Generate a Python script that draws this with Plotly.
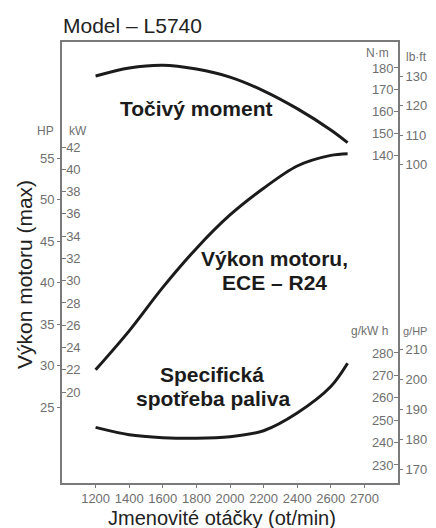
import plotly.graph_objects as go

# ---------------- data ----------------
rpm = [1200, 1400, 1600, 1800, 2000, 2200, 2400, 2600, 2700]
torque_nm = [176.3, 180.0, 181.3, 179.5, 175.8, 169.5, 161.3, 151.5, 145.7]
power_kw = [22.0, 25.5, 29.4, 32.9, 35.9, 38.3, 40.3, 41.25, 41.4]
fuel_gkwh = [246.8, 243.5, 242.2, 241.9, 242.6, 245.3, 253.2, 265.0, 275.4]

# x tick slots as drawn in the reference (last label "2700" sits one slot further right)
x_tickvals = [1200, 1400, 1600, 1800, 2000, 2200, 2400, 2600, 2800]
x_ticktext = ["1200", "1400", "1600", "1800", "2000", "2200", "2400", "2600", "2700"]
kw_ticks = [20, 22, 24, 26, 28, 30, 32, 34, 36, 38, 40, 42]
hp_ticks = [25, 30, 35, 40, 45, 50, 55]
nm_ticks = [140, 150, 160, 170, 180]
lbft_ticks = [100, 110, 120, 130]
gkwh_ticks = [230, 240, 250, 260, 270, 280]
ghph_ticks = [170, 180, 190, 200, 210]

KW_PER_HP = 0.7457
NM_PER_LBFT = 1.3558

# ---------------- layout geometry ----------------
# the page body has an 8px margin, so the figure is drawn 8px in from the window edge
OFF = 8
W, H = 436 - OFF, 528 - OFF
L, R, T, B = 62, 398, 42, 483          # plot frame in window pixels

kw_range = [11.84, 51.43]
hp_range = [v / KW_PER_HP for v in kw_range]
nm_range = [-10.8, 191.95]
lbft_range = [v / NM_PER_LBFT for v in nm_range]
gkwh_range = [221.96, 418.8]
ghph_range = [v * KW_PER_HP for v in gkwh_range]

FONT = "Liberation Sans, Arial, sans-serif"
GRAY = "#6f6f6f"
AXIS = "#7a7a7a"
INK = "#1b1b1b"


def pos(px, py):
    return (px - L) / (R - L), (B - py) / (B - T)


fig = go.Figure()
line_style = dict(color=INK, width=3, shape="spline", smoothing=0.9)
fig.add_trace(go.Scatter(x=rpm, y=power_kw, mode="lines", line=line_style, yaxis="y",
                         showlegend=False))
fig.add_trace(go.Scatter(x=rpm, y=torque_nm, mode="lines", line=line_style, yaxis="y3",
                         showlegend=False))
fig.add_trace(go.Scatter(x=rpm, y=fuel_gkwh, mode="lines", line=line_style, yaxis="y5",
                         showlegend=False))
# empty traces so that the secondary unit axes are registered and drawn
for ax in ["y2", "y4", "y6"]:
    fig.add_trace(go.Scatter(x=[None], y=[None], mode="lines", yaxis=ax, showlegend=False,
                             hoverinfo="skip"))

tickfont = dict(family=FONT, size=13, color=GRAY)
common = dict(showgrid=False, zeroline=False, fixedrange=True, tickfont=tickfont,
              tickcolor=AXIS, ticklen=4, tickwidth=1)
xcommon = dict(common)
xcommon.update(ticklen=3)

fig.update_layout(
    width=W, height=H,
    margin=dict(l=L - OFF, r=436 - R, t=T - OFF, b=528 - B, autoexpand=False),
    paper_bgcolor="white", plot_bgcolor="white",
    xaxis=dict(range=[1000, 3000], tickvals=x_tickvals, ticktext=x_ticktext, ticks="outside",
               showline=True, mirror=True, linecolor=AXIS, linewidth=1.5, **xcommon),
    yaxis=dict(range=kw_range, tickvals=kw_ticks, ticks="inside", ticklabelposition="inside",
               side="left", showline=True, mirror=True, linecolor=AXIS, linewidth=1.5, **common),
    yaxis2=dict(range=hp_range, tickvals=hp_ticks, ticks="outside", overlaying="y",
                side="left", anchor="x", showline=False, **common),
    yaxis3=dict(range=nm_range, tickvals=nm_ticks, ticks="inside", ticklabelposition="inside",
                overlaying="y", side="right", anchor="x", showline=False, **common),
    yaxis4=dict(range=lbft_range, tickvals=lbft_ticks, ticks="outside", overlaying="y",
                side="right", anchor="x", showline=False, **common),
    yaxis5=dict(range=gkwh_range, tickvals=gkwh_ticks, ticks="inside", ticklabelposition="inside",
                overlaying="y", side="right", anchor="x", showline=False, **common),
    yaxis6=dict(range=ghph_range, tickvals=ghph_ticks, ticks="outside", overlaying="y",
                side="right", anchor="x", showline=False, **common),
)


def note(text, px, py, size, color=INK, bold=False, xanchor="center", angle=0):
    x, y = pos(px, py)
    if bold:
        text = "<b>" + text + "</b>"
    fig.add_annotation(x=x, y=y, xref="paper", yref="paper", text=text, showarrow=False,
                       xanchor=xanchor, yanchor="middle", textangle=angle,
                       font=dict(family=FONT, size=size, color=color))


# titles
note("Model – L5740", 61, 25, 21, color="#222", xanchor="left")
note("Výkon motoru (max)", 24, 275, 21, color="#222", angle=-90)
note("Jmenovité otáčky (ot/min)", 222, 518, 20, color="#222")

# curve labels
note("Točivý moment", 196, 108, 21, bold=True)
note("Výkon motoru,", 274, 258, 21, bold=True)
note("ECE – R24", 274, 282, 21, bold=True)
note("Specifická", 212, 374, 21, bold=True)
note("spotřeba paliva", 213, 398, 21, bold=True)

# unit labels
note("HP", 45, 131, 12, color=GRAY)
note("kW", 78, 131, 12, color=GRAY)
note("N·m", 377, 53, 12, color=GRAY)
note("lb·ft", 416, 57, 12, color=GRAY)
note("g/kW h", 369, 331, 12, color=GRAY)
note("g/HP", 429, 331, 11, color=GRAY, xanchor="right")

fig.write_html("out.html")
